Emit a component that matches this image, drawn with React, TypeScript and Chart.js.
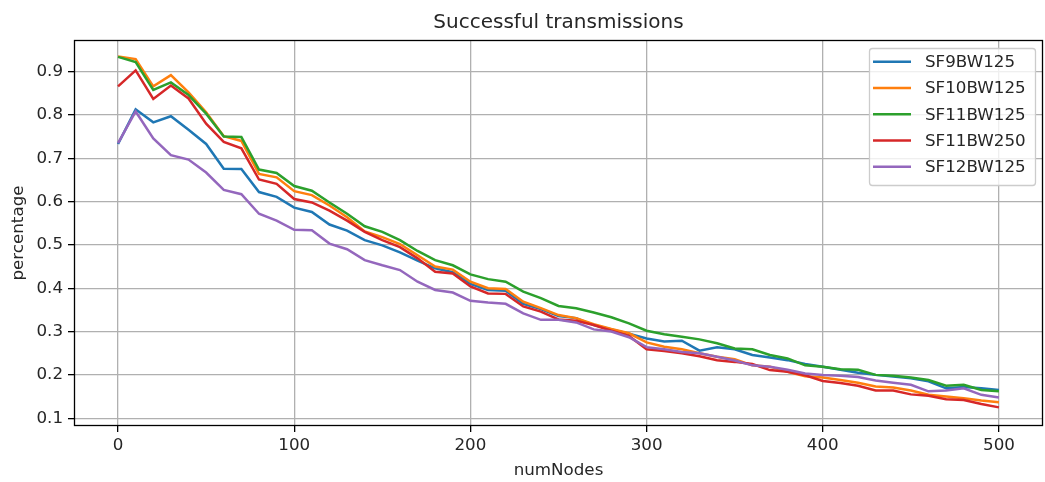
import React, { useEffect, useRef } from "react";
import { Chart, registerables } from "chart.js";

Chart.register(...registerables);

const numNodes = [
  0, 10, 20, 30, 40, 50, 60, 70, 80, 90, 100,
  110, 120, 130, 140, 150, 160, 170, 180, 190, 200,
  210, 220, 230, 240, 250, 260, 270, 280, 290, 300,
  310, 320, 330, 340, 350, 360, 370, 380, 390, 400,
  410, 420, 430, 440, 450, 460, 470, 480, 490, 500,
];

const sf9bw125 = [
  0.733, 0.813, 0.783, 0.797, 0.766, 0.733, 0.676, 0.675, 0.622, 0.611, 0.586,
  0.576, 0.547, 0.533, 0.511, 0.499, 0.483, 0.464, 0.446, 0.437, 0.410,
  0.396, 0.394, 0.364, 0.352, 0.336, 0.331, 0.315, 0.305, 0.295, 0.284,
  0.277, 0.279, 0.256, 0.264, 0.259, 0.246, 0.240, 0.234, 0.225, 0.219,
  0.212, 0.205, 0.200, 0.196, 0.192, 0.185, 0.169, 0.172, 0.169, 0.165,
];

const sf10bw125 = [
  0.935, 0.929, 0.866, 0.892, 0.852, 0.806, 0.751, 0.740, 0.664, 0.656, 0.624,
  0.615, 0.591, 0.564, 0.531, 0.518, 0.502, 0.476, 0.450, 0.443, 0.415,
  0.400, 0.398, 0.369, 0.354, 0.338, 0.331, 0.317, 0.306, 0.296, 0.275,
  0.265, 0.259, 0.250, 0.242, 0.236, 0.222, 0.219, 0.207, 0.197, 0.194,
  0.188, 0.182, 0.173, 0.171, 0.164, 0.154, 0.150, 0.146, 0.141, 0.137,
];

const sf11bw125 = [
  0.934, 0.922, 0.858, 0.875, 0.846, 0.803, 0.750, 0.749, 0.674, 0.666, 0.636,
  0.625, 0.598, 0.572, 0.543, 0.530, 0.511, 0.486, 0.465, 0.453, 0.432,
  0.421, 0.415, 0.392, 0.377, 0.359, 0.354, 0.344, 0.333, 0.319, 0.302,
  0.294, 0.288, 0.282, 0.273, 0.261, 0.259, 0.246, 0.238, 0.222, 0.219,
  0.213, 0.212, 0.200, 0.198, 0.194, 0.188, 0.175, 0.177, 0.165, 0.162,
];

const sf11bw250 = [
  0.866, 0.903, 0.837, 0.868, 0.838, 0.780, 0.738, 0.723, 0.651, 0.641, 0.606,
  0.598, 0.579, 0.556, 0.530, 0.511, 0.495, 0.469, 0.438, 0.434, 0.404,
  0.388, 0.387, 0.358, 0.346, 0.328, 0.325, 0.315, 0.302, 0.290, 0.259,
  0.255, 0.250, 0.243, 0.234, 0.230, 0.225, 0.211, 0.207, 0.199, 0.186,
  0.181, 0.175, 0.164, 0.164, 0.155, 0.152, 0.144, 0.142, 0.133, 0.125,
];

const sf12bw125 = [
  0.735, 0.808, 0.746, 0.707, 0.697, 0.667, 0.627, 0.617, 0.572, 0.556, 0.535,
  0.534, 0.503, 0.490, 0.465, 0.453, 0.442, 0.415, 0.396, 0.390, 0.371,
  0.367, 0.364, 0.342, 0.327, 0.327, 0.321, 0.305, 0.300, 0.287, 0.264,
  0.259, 0.253, 0.250, 0.242, 0.233, 0.222, 0.219, 0.212, 0.203, 0.200,
  0.198, 0.195, 0.187, 0.182, 0.177, 0.162, 0.164, 0.169, 0.154, 0.148,
];

const seriesNames = ["SF9BW125", "SF10BW125", "SF11BW125", "SF11BW250", "SF12BW125"];
const seriesValues = [sf9bw125, sf10bw125, sf11bw125, sf11bw250, sf12bw125];
const seriesColors = ["#1f77b4", "#ff7f0e", "#2ca02c", "#d62728", "#9467bd"];

const xTicks = [0, 100, 200, 300, 400, 500];
const yTicks = [0.1, 0.2, 0.3, 0.4, 0.5, 0.6, 0.7, 0.8, 0.9];

const chartTitle = "Successful transmissions";
const xTitle = "numNodes";
const yTitle = "percentage";

const FONT = "'DejaVu Sans', sans-serif";
const TEXT = "#262626";

const decorPlugin = {
  id: "decor",
  afterDatasetsDraw(chart: any) {
    const { ctx, chartArea: a } = chart;
    ctx.save();
    ctx.strokeStyle = "#000";
    ctx.lineWidth = 1.3;
    ctx.strokeRect(a.left + 0.5, a.top + 0.5, a.right - a.left - 1, a.bottom - a.top - 1);
    ctx.restore();
  },
  afterDraw(chart: any) {
    const { ctx, chartArea: a } = chart;
    const cx = (a.left + a.right) / 2;
    ctx.save();
    ctx.fillStyle = TEXT;
    // title
    ctx.font = `20px ${FONT}`;
    ctx.textAlign = "center";
    ctx.textBaseline = "alphabetic";
    ctx.fillText(chartTitle, cx, 28);
    // axis titles
    ctx.font = `16.7px ${FONT}`;
    ctx.fillText(xTitle, cx, 475);
    ctx.save();
    ctx.translate(23, (a.top + a.bottom) / 2);
    ctx.rotate(-Math.PI / 2);
    ctx.textBaseline = "alphabetic";
    ctx.fillText(yTitle, 0, 0);
    ctx.restore();

    // legend
    const bx = 869.5, by = 48.5, bw = 166, bh = 137;
    ctx.beginPath();
    ctx.roundRect(bx, by, bw, bh, 3);
    ctx.fillStyle = "rgba(255,255,255,0.8)";
    ctx.fill();
    ctx.strokeStyle = "#cccccc";
    ctx.lineWidth = 1.3;
    ctx.stroke();
    const ds = chart.data.datasets;
    ctx.font = `16.7px ${FONT}`;
    ctx.textAlign = "left";
    ctx.textBaseline = "middle";
    for (let i = 0; i < ds.length; i++) {
      const y = 61.7 + i * 26.25;
      ctx.beginPath();
      ctx.strokeStyle = ds[i].borderColor;
      ctx.lineWidth = 2.5;
      ctx.moveTo(873, y);
      ctx.lineTo(911, y);
      ctx.stroke();
      ctx.fillStyle = TEXT;
      ctx.fillText(ds[i].label, 925, y + 1);
    }
    ctx.restore();
  },
};

export default function App() {
  const ref = useRef<HTMLCanvasElement | null>(null);

  useEffect(() => {
    if (!ref.current) return;
    const datasets = seriesNames.map((name, i) => ({
      label: name,
      data: numNodes.map((x, j) => ({ x, y: seriesValues[i][j] })),
      borderColor: seriesColors[i],
      backgroundColor: seriesColors[i],
      borderWidth: 2.5,
      pointRadius: 0,
      tension: 0,
      fill: false,
      order: seriesNames.length - i,
    }));

    const gridOpts = {
      color: "#b0b0b0",
      lineWidth: 1.3,
      drawTicks: true,
      tickLength: 6,
      tickColor: "#000",
      tickWidth: 1.3,
    };

    const chart = new Chart(ref.current, {
      type: "line",
      data: { datasets },
      plugins: [decorPlugin],
      options: {
        animation: false,
        responsive: false,
        maintainAspectRatio: false,
        layout: { padding: { top: 40, right: 2, left: 0, bottom: 0 } },
        plugins: {
          legend: { display: false },
          title: { display: false },
          tooltip: { enabled: false },
        },
        scales: {
          x: {
            type: "linear",
            min: -25,
            max: 525,
            afterBuildTicks: (s: any) => {
              s.ticks = xTicks.map((v) => ({ value: v }));
            },
            afterFit: (s: any) => {
              s.height = 56;
            },
            border: { display: false },
            grid: gridOpts,
            ticks: {
              autoSkip: false,
              maxRotation: 0,
              padding: 4,
              color: TEXT,
              font: { family: FONT, size: 16.7 },
              callback: (v: any) => String(v),
            },
          },
          y: {
            type: "linear",
            min: 0.082,
            max: 0.973,
            afterBuildTicks: (s: any) => {
              s.ticks = yTicks.map((v) => ({ value: v }));
            },
            afterFit: (s: any) => {
              s.width = 74;
            },
            border: { display: false },
            grid: gridOpts,
            ticks: {
              autoSkip: false,
              padding: 5,
              color: TEXT,
              font: { family: FONT, size: 16.7 },
              callback: (v: any) => Number(v).toFixed(1),
            },
          },
        },
      },
    });
    return () => chart.destroy();
  }, []);

  return (
    <div style={{ position: "absolute", left: 0, top: 0, width: 1045, height: 482, background: "#fff" }}>
      <canvas ref={ref} width={1045} height={482} style={{ width: 1045, height: 482, display: "block" }} />
    </div>
  );
}
